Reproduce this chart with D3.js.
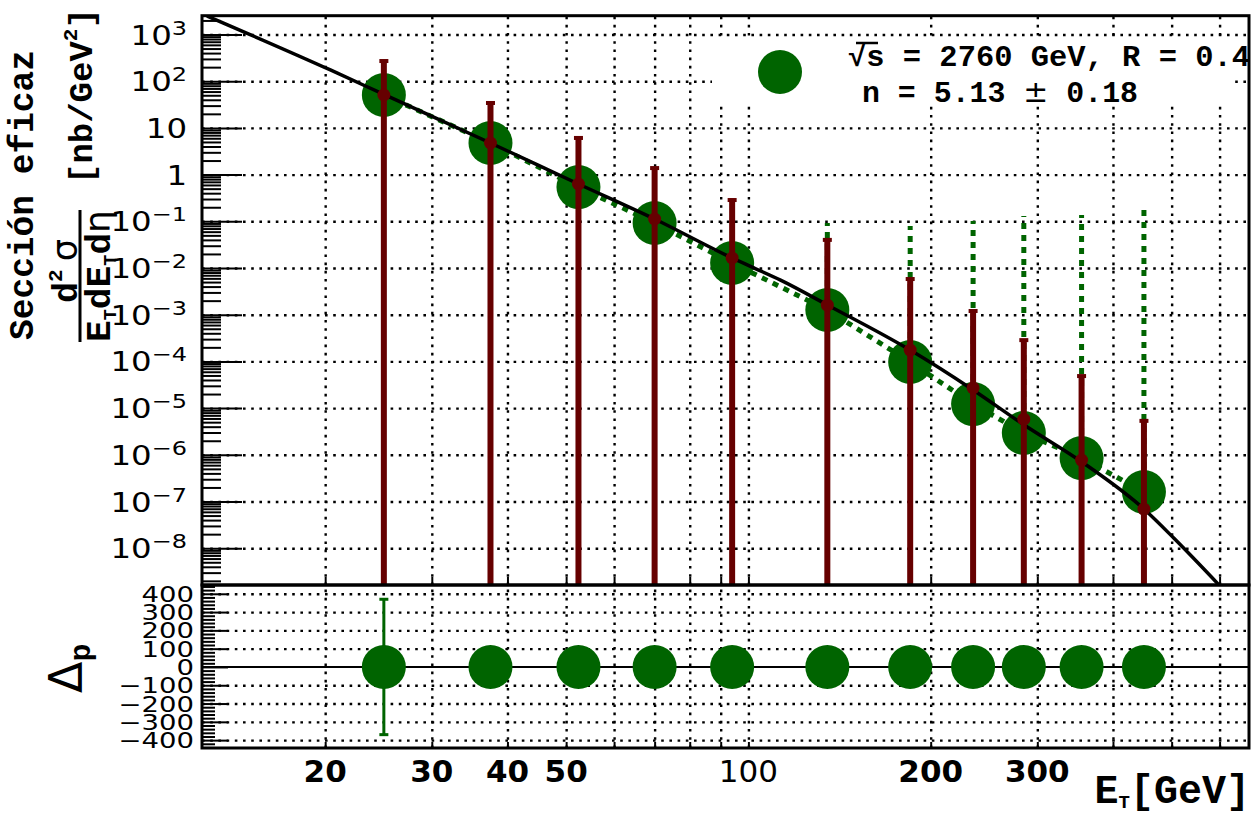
<!DOCTYPE html>
<html><head><meta charset="utf-8">
<script src="https://cdn.jsdelivr.net/npm/d3@7"></script>
<style>body{margin:0;background:#fff;overflow:hidden}</style>
</head><body><svg id="c" width="1254" height="816"></svg>
<script>
// ---------------- data ----------------
const energies      = [25, 37.5, 52.4, 70, 94, 135, 185, 235, 285, 355, 450];
const dataValues    = [50.6, 4.75, 0.54, 0.092, 0.0128, 1.26e-3, 9.7e-5, 1.22e-5, 2.93e-6, 8.5e-7, 1.6e-7];
const dataUpper     = [null, null, null, null, null, 0.092, 0.079, 0.101, 0.13, 0.136, 0.175];
const theoryValues  = [50.6, 4.75, 0.63, 0.112, 0.0164, 1.6e-3, 1.75e-4, 2.7e-5, 5.8e-6, 7.7e-7, 6.9e-8];
const theoryUpper   = [284, 35.9, 6.4, 1.45, 0.30, 0.042, 6.1e-3, 1.26e-3, 3.0e-4, 5.1e-5, 5.6e-6];
const fitE          = [12.76, 20.4, 25, 37.5, 52.4, 70, 94, 101, 113, 135, 185, 235, 285, 355, 450, 504, 599];
const fitV          = [2490, 174, 52, 4.75, 0.63, 0.112, 0.0164, 0.0107, 5.5e-3, 1.62e-3, 1.75e-4, 2.45e-5, 4.4e-6, 7.1e-7, 6.9e-8, 1.65e-8, 1.62e-9];
const deltaValues   = [0, 0, 0, 0, 0, 0, 0, 0, 0, 0, 0];
const deltaErrors   = [370, 0, 0, 0, 0, 0, 0, 0, 0, 0, 0];
const yTickExponents = [3, 2, 1, 0, -1, -2, -3, -4, -5, -6, -7, -8];
const ratioTicks    = [400, 300, 200, 100, 0, -100, -200, -300, -400];
const xTickLabels   = [20, 30, 40, 50, 100, 200, 300];
const xGridTicks    = [20, 30, 40, 50, 60, 70, 80, 90, 100, 200, 300, 400, 500, 600];

// ---------------- layout ----------------
const L = 202, R = 1249, T = 15.7, MID = 585, B = 748;
const GREEN = "#006400", RED = "#660000";
const MONO = "'Liberation Mono','Courier New',monospace";
const SANS = "'DejaVu Sans',sans-serif";

const svg = d3.select("#c");
const x  = d3.scaleLog().domain([12.52, 671]).range([L, R]);
const y  = d3.scaleLog().domain([1.63e-9, 2527]).range([MID, T]);
const yr = d3.scaleLinear().domain([-443, 448]).range([B, MID]);

function clean(g){ g.select(".domain").remove(); return g; }
function dotted(g){ g.selectAll("line").attr("stroke","#000").attr("stroke-width",2.4).attr("stroke-dasharray","2.6,5.6"); }

// ---------------- grids ----------------
const decades = yTickExponents.map(e => Math.pow(10, e));
svg.append("g").attr("transform",`translate(${L},0)`)
  .call(d3.axisLeft(y).tickValues(decades).tickSize(-(R-L)).tickFormat(""))
  .call(clean).call(dotted);
svg.append("g").attr("transform",`translate(0,${MID})`)
  .call(d3.axisBottom(x).tickValues(xGridTicks).tickSize(-(MID-T)).tickFormat(""))
  .call(clean).call(dotted);
svg.append("g").attr("transform",`translate(${L},0)`)
  .call(d3.axisLeft(yr).tickValues(ratioTicks.filter(v=>v!==0)).tickSize(-(R-L)).tickFormat(""))
  .call(clean).call(dotted);
svg.append("g").attr("transform",`translate(0,${B})`)
  .call(d3.axisBottom(x).tickValues(xGridTicks).tickSize(-(B-MID)).tickFormat(""))
  .call(clean).call(dotted);

// ---------------- ticks ----------------
function solid(g){ g.selectAll("line").attr("stroke","#000").attr("stroke-width",2); }
const minorY = [];
for (let e = -9; e <= 3; e++) for (let k = 2; k <= 9; k++) {
  const v = k*Math.pow(10,e); if (v > 1.63e-9 && v < 2527) minorY.push(v);
}
svg.append("g").attr("transform",`translate(${L},0)`)
  .call(d3.axisLeft(y).tickValues(decades).tickSize(-40).tickFormat("")).call(clean).call(solid);
svg.append("g").attr("transform",`translate(${L},0)`)
  .call(d3.axisLeft(y).tickValues(minorY).tickSize(-19).tickFormat("")).call(clean).call(solid);
const minorR = d3.range(-440, 441, 20).filter(v => v % 100 !== 0);
svg.append("g").attr("transform",`translate(${L},0)`)
  .call(d3.axisLeft(yr).tickValues(ratioTicks).tickSize(-26).tickFormat("")).call(clean).call(solid);
svg.append("g").attr("transform",`translate(${L},0)`)
  .call(d3.axisLeft(yr).tickValues(minorR).tickSize(-13).tickFormat("")).call(clean).call(solid);
svg.append("g").attr("transform",`translate(0,${B})`)
  .call(d3.axisBottom(x).tickValues(xGridTicks).tickSize(-6).tickFormat("")).call(clean).call(solid);
svg.append("g").attr("transform",`translate(0,${MID})`)
  .call(d3.axisBottom(x).tickValues(xGridTicks).tickSize(-8).tickFormat("")).call(clean).call(solid);

// zero line
svg.append("line").attr("x1",L).attr("x2",R).attr("y1",yr(0)).attr("y2",yr(0))
  .attr("stroke","#000").attr("stroke-width",2);

// ---------------- upper panel data ----------------
svg.append("clipPath").attr("id","cu").append("rect").attr("x",L).attr("y",T).attr("width",R-L).attr("height",MID-T);
const up = svg.append("g").attr("clip-path","url(#cu)");
const pts = energies.map((e,i)=>({e, v:dataValues[i], du:dataUpper[i], t:theoryValues[i], tu:theoryUpper[i]}));

up.append("path").datum(pts)
  .attr("d", d3.line().x(d=>x(d.e)).y(d=>y(d.v)))
  .attr("fill","none").attr("stroke",GREEN).attr("stroke-width",5).attr("stroke-dasharray","6,6");
up.selectAll(".gerr").data(pts.filter(d=>d.du!==null)).join("line")
  .attr("x1",d=>x(d.e)).attr("x2",d=>x(d.e)).attr("y1",d=>y(d.v)).attr("y2",d=>y(d.du))
  .attr("stroke",GREEN).attr("stroke-width",5).attr("stroke-dasharray","6,6");
up.selectAll(".gpt").data(pts).join("circle")
  .attr("cx",d=>x(d.e)).attr("cy",d=>y(d.v)).attr("r",22).attr("fill",GREEN);

up.append("path")
  .attr("d", d3.line().curve(d3.curveMonotoneX)(fitE.map((e,i)=>[x(e), y(fitV[i])])))
  .attr("fill","none").attr("stroke","#000").attr("stroke-width",3.5);

const ymin = y.domain()[0];
up.selectAll(".rerr").data(pts).join("line")
  .attr("x1",d=>x(d.e)).attr("x2",d=>x(d.e))
  .attr("y1",d=>y(d.tu))
  .attr("y2",d=>{ const lo = 2*d.t - d.tu; return lo > ymin ? y(lo) : MID; })
  .attr("stroke",RED).attr("stroke-width",6);
up.selectAll(".rcap").data(pts).join("rect")
  .attr("x",d=>x(d.e)-4.5).attr("y",d=>y(d.tu)-1).attr("width",9).attr("height",4).attr("fill",RED);
up.selectAll(".rpt").data(pts).join("circle")
  .attr("cx",d=>x(d.e)).attr("cy",d=>y(d.t)).attr("r",6.5).attr("fill",RED);

// ---------------- lower panel data ----------------
const lp = energies.map((e,i)=>({e, v:deltaValues[i], err:deltaErrors[i]}));
const lo = svg.append("g");
lo.selectAll(".le").data(lp.filter(d=>d.err>0)).join("g").each(function(d){
  const g = d3.select(this), cx = x(d.e);
  g.append("line").attr("x1",cx).attr("x2",cx).attr("y1",yr(d.v+d.err)).attr("y2",yr(d.v-d.err))
    .attr("stroke",GREEN).attr("stroke-width",3);
  [d.v+d.err, d.v-d.err].forEach(v=>g.append("rect").attr("x",cx-4.5).attr("y",yr(v)-1.5).attr("width",9).attr("height",3).attr("fill",GREEN));
});
lo.selectAll(".lpt").data(lp).join("circle")
  .attr("cx",d=>x(d.e)).attr("cy",d=>yr(d.v)).attr("r",22).attr("fill",GREEN);

// ---------------- frames ----------------
svg.append("rect").attr("x",L).attr("y",T).attr("width",R-L).attr("height",MID-T)
  .attr("fill","none").attr("stroke","#000").attr("stroke-width",3);
svg.append("rect").attr("x",L).attr("y",MID).attr("width",R-L).attr("height",B-MID)
  .attr("fill","none").attr("stroke","#000").attr("stroke-width",3);

// ---------------- tick labels ----------------
function stretched(px, py, sx, anchor){
  return svg.append("g").attr("transform",`translate(${px},${py}) scale(${sx},1)`)
    .append("text").attr("text-anchor",anchor).attr("fill","#000");
}
yTickExponents.forEach(e=>{
  const t = stretched(187, y(Math.pow(10,e))+10, 1.2, "end").attr("font-family",SANS).attr("font-size",27);
  if (e === 0) t.text("1");
  else if (e === 1) t.text("10");
  else { t.append("tspan").text("10");
         t.append("tspan").attr("font-size",20).attr("dy",-10).text(e<0 ? "\u2212"+(-e) : String(e)); }
});
ratioTicks.forEach(v=>{
  stretched(194, yr(v)+8, 1.25, "end").attr("font-family",SANS).attr("font-size",22)
    .text(v<0 ? "\u2212"+(-v) : String(v));
});
xTickLabels.forEach(v=>{
  svg.append("text").attr("x",x(v)).attr("y",782).attr("text-anchor","middle")
    .attr("font-family",SANS).attr("font-size",31).attr("font-weight", v===100 ? "normal":"bold")
    .text(String(v));
});

// ---------------- axis titles ----------------
const xt = svg.append("text").attr("x",1250).attr("y",803).attr("text-anchor","end")
  .attr("font-family",MONO).attr("font-weight","bold").attr("font-size",40);
xt.append("tspan").text("E");
xt.append("tspan").attr("font-size",19).attr("dy",5).text("T");
xt.append("tspan").attr("dy",-5).text("[GeV]");

function rot(px, py){ return svg.append("g").attr("transform",`translate(${px},${py}) rotate(-90)`); }
rot(33,340).append("text").attr("font-family",MONO).attr("font-weight","bold").attr("font-size",35)
  .attr("textLength",290).attr("lengthAdjust","spacingAndGlyphs").text("Sección eficaz");
const c2 = rot(92,184).append("text").attr("font-family",MONO).attr("font-weight","bold").attr("font-size",34);
c2.append("tspan").text("[nb/GeV");
c2.append("tspan").attr("font-size",21).attr("dy",-15).text("2");
c2.append("tspan").attr("dy",15).text("]");
const num = rot(77,271).append("text").attr("text-anchor","middle").attr("font-family",MONO).attr("font-weight","bold").attr("font-size",35);
num.append("tspan").text("d");
num.append("tspan").attr("font-size",21).attr("dy",-15).text("2");
num.append("tspan").attr("dy",15).attr("dx",8).attr("font-family",SANS).attr("font-weight","normal").text("σ");
svg.append("line").attr("x1",80).attr("x2",80).attr("y1",210).attr("y2",342).attr("stroke","#000").attr("stroke-width",3);
const den = rot(110,276).append("text").attr("text-anchor","middle").attr("font-family",MONO).attr("font-weight","bold").attr("font-size",35)
  .attr("textLength",132).attr("lengthAdjust","spacingAndGlyphs");
den.append("tspan").text("E");
den.append("tspan").attr("font-size",18).attr("dy",6).text("T");
den.append("tspan").attr("dy",-6).text("dE");
den.append("tspan").attr("font-size",18).attr("dy",6).text("T");
den.append("tspan").attr("dy",-6).text("d");
den.append("tspan").attr("font-family",SANS).attr("font-weight","normal").text("η");
const dp = rot(82,693).append("text").attr("font-family",SANS).attr("font-size",46);
dp.append("tspan").text("Δ");
dp.append("tspan").attr("font-family",MONO).attr("font-weight","bold").attr("font-size",30).attr("dy",8).text("p");

// ---------------- legend ----------------
svg.append("rect").attr("x",712).attr("y",40).attr("width",518).attr("height",63).attr("fill","#fff");
svg.append("circle").attr("cx",780).attr("cy",72).attr("r",22).attr("fill",GREEN);
svg.append("text").attr("x",848).attr("y",66).attr("font-family",MONO).attr("font-weight","bold").attr("font-size",30)
  .attr("textLength",402).attr("lengthAdjust","spacingAndGlyphs").text("√s = 2760 GeV, R = 0.4");
svg.append("line").attr("x1",856).attr("x2",878).attr("y1",43).attr("y2",43).attr("stroke","#000").attr("stroke-width",2.5);
const l2 = svg.append("text").attr("x",862).attr("y",102).attr("font-family",MONO).attr("font-weight","bold").attr("font-size",30)
  .attr("textLength",276).attr("lengthAdjust","spacingAndGlyphs");
l2.append("tspan").text("n = 5.13 ");
l2.append("tspan").attr("font-weight","normal").attr("font-family",SANS).text("±");
l2.append("tspan").text(" 0.18");
</script></body></html>
